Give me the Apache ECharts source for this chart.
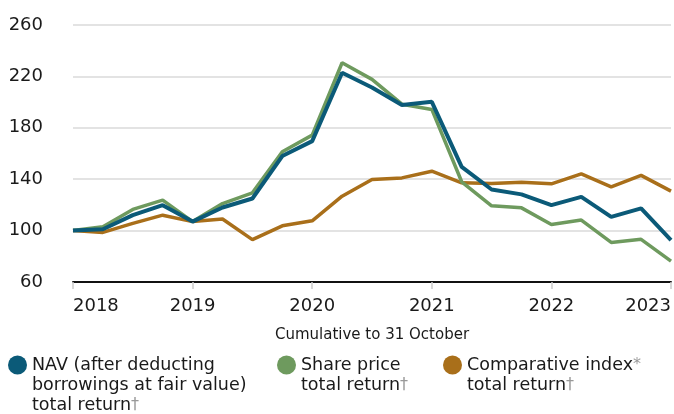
<!DOCTYPE html>
<html>
<head>
    <meta charset="utf-8">
    <title>Cumulative total return</title>
    <script src="https://cdn.jsdelivr.net/npm/echarts@6/dist/echarts.min.js"></script>
    <style>
        html, body { margin: 0; padding: 0; background: #fff; }
        #main { width: 674px; height: 414px; }
    </style>
</head>
<body>
    <div id="main"></div>

    <script type="text/javascript">
        // quarters, cumulative to 31 October
        var periods = ['Oct 2018','Jan 2019','Apr 2019','Jul 2019','Oct 2019','Jan 2020','Apr 2020','Jul 2020',
                       'Oct 2020','Jan 2021','Apr 2021','Jul 2021','Oct 2021','Jan 2022','Apr 2022','Jul 2022',
                       'Oct 2022','Jan 2023','Apr 2023','Jul 2023','Oct 2023'];
        // NAV
        var nav = [100, 101, 112, 119.8, 107, 118, 125, 158, 169.6, 222.8, 211.4, 197.7, 200.2,
                   149.6, 132, 128.2, 119.8, 126.3, 110.7, 117.3, 92.6];
        // 股价
        var share = [100, 103, 116.5, 123.7, 107, 121, 129.4, 161.3, 174.3, 230.6, 217.7, 198.4, 194.3,
                     138, 119.3, 117.7, 104.8, 108.2, 90.8, 93.2, 76.3];
        // 指数
        var index = [100, 98.6, 105.6, 112, 107, 109, 93, 103.7, 107.6, 126.8, 139.8, 141, 146.2,
                     137.2, 136.7, 137.7, 136.4, 144.2, 134.1, 143, 130.7];
        var yTicks = [60, 260, 40];   // min, max, interval

        var font = 'DejaVu Sans';
        var ink = '#1a1a1a';
        var cBlue = '#0b5a78', cGreen = '#6e9a5e', cOrange = '#a96f1a';

        var nameNav = 'NAV (after deducting borrowings at fair value) total return';
        var nameShare = 'Share price total return';
        var nameIndex = 'Comparative index total return';

        function legendOf(name, left, top, lines) {
            return {
                data: [name],
                left: left,
                top: top,
                padding: 0,
                icon: 'circle',
                itemWidth: 19,
                itemHeight: 19,
                selectedMode: false,
                formatter: function (n) {
                    if (n === nameNav) return 'NAV (after deducting\nborrowings at fair value)\ntotal return{d|†}';
                    if (n === nameShare) return 'Share price\ntotal return{d|†}';
                    return 'Comparative index{d|*}\ntotal return{d|†}';
                },
                textStyle: {
                    fontFamily: font,
                    fontSize: 17.5,
                    lineHeight: 20,
                    color: ink,
                    padding: [20 * (lines - 1), 0, 0, 0],
                    rich: {
                        d: { color: '#999', fontFamily: font, fontSize: 16, lineHeight: 20 }
                    }
                }
            };
        }

        var chart = echarts.init(document.getElementById('main'));
        chart.setOption({
            animation: false,
            grid: {
                left: 73, right: 1, top: 25, bottom: 132
            },
            legend: [
                legendOf(nameNav, 8, 315, 3),
                legendOf(nameShare, 277, 335, 2),
                legendOf(nameIndex, 443, 335, 2)
            ],
            xAxis: {
                type: 'category',
                data: periods,
                boundaryGap: false,
                name: 'Cumulative to 31 October',
                nameLocation: 'middle',
                nameGap: 46,
                nameTextStyle: { fontFamily: font, fontSize: 15, color: ink },
                axisLine: { lineStyle: { color: '#111', width: 2 } },
                axisTick: { interval: 3, length: 7, lineStyle: { color: '#ccc', width: 1.5 } },
                axisLabel: {
                    interval: 3,
                    margin: 15,
                    fontFamily: font,
                    fontSize: 18,
                    color: ink,
                    alignMinLabel: 'left',
                    alignMaxLabel: 'right',
                    formatter: function (v) { return v.slice(-4); }
                },
                splitLine: { show: false }
            },
            yAxis: {
                type: 'value',
                min: yTicks[0],
                max: yTicks[1],
                interval: yTicks[2],
                axisLine: { show: false },
                axisTick: { show: false },
                axisLabel: { margin: 30, fontFamily: font, fontSize: 18, color: ink },
                splitLine: { lineStyle: { color: '#dadada', width: 1.5 } }
            },
            series: [
                {
                    name: nameIndex,
                    type: 'line',
                    data: index,
                    symbol: 'none',
                    color: cOrange,
                    lineStyle: { width: 3.5, color: cOrange }
                },
                {
                    name: nameShare,
                    type: 'line',
                    data: share,
                    symbol: 'none',
                    color: cGreen,
                    lineStyle: { width: 3.5, color: cGreen }
                },
                {
                    name: nameNav,
                    type: 'line',
                    data: nav,
                    symbol: 'none',
                    color: cBlue,
                    lineStyle: { width: 4, color: cBlue }
                }
            ]
        });
    </script>
</body>
</html>
